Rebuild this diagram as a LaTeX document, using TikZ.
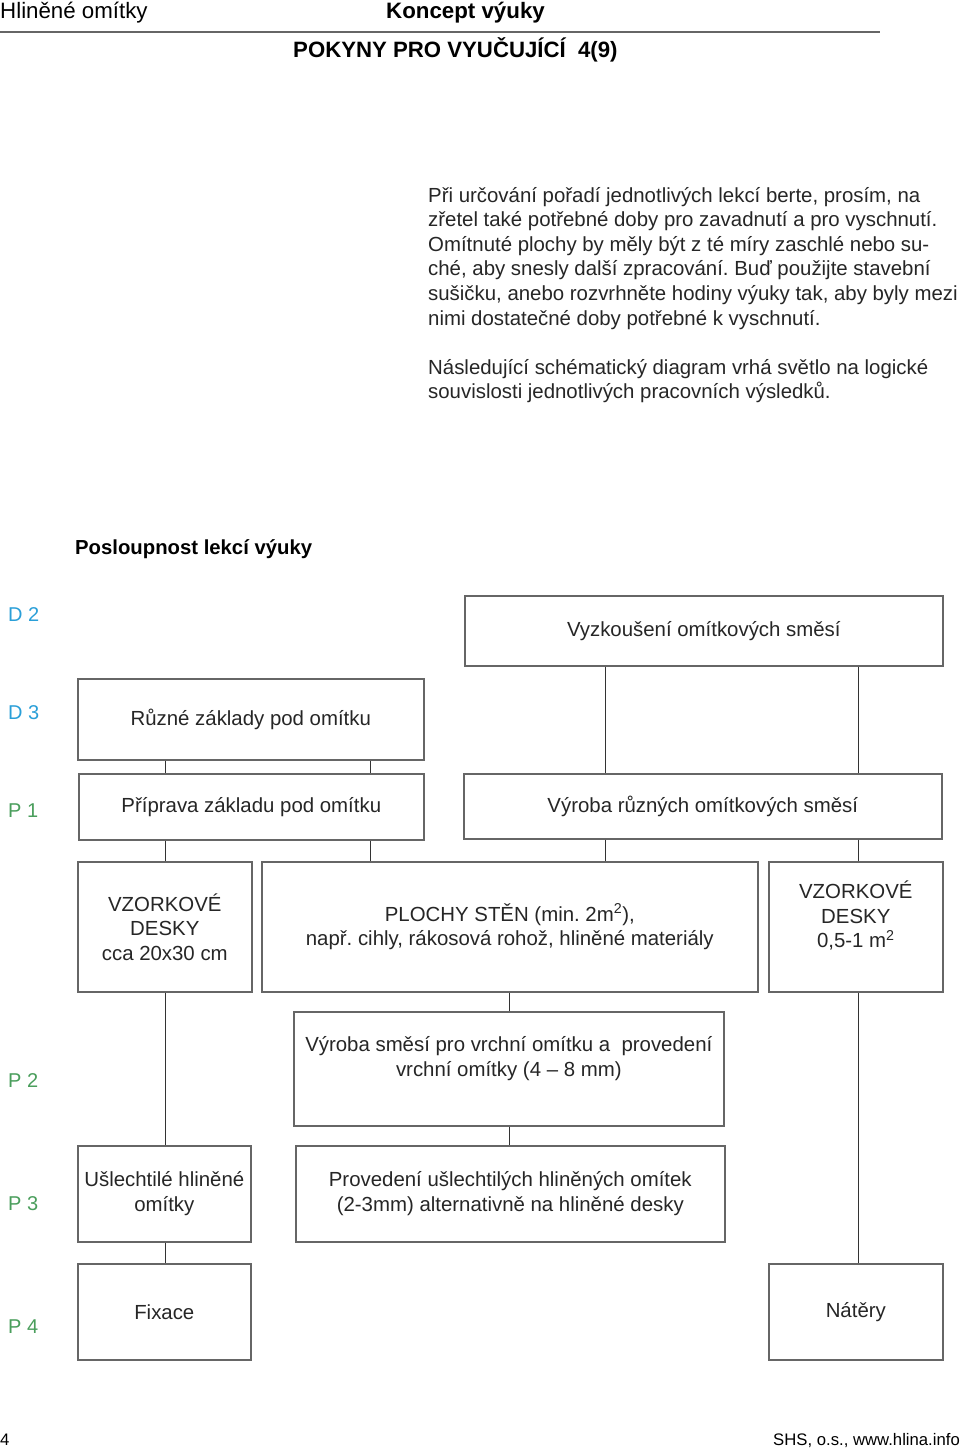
\documentclass[tikz,border=0pt]{standalone}
\usepackage{fontspec}
\setmainfont{Liberation Sans}
\definecolor{dblue}{HTML}{2A9FD8}
\definecolor{pgreen}{HTML}{4A9E5C}
\definecolor{boxline}{HTML}{666666}
\definecolor{conn}{HTML}{333333}
\frenchspacing
\begin{document}
\begin{tikzpicture}[x=1pt,y=-1pt,
  box/.style={draw=boxline, line width=1.6pt, anchor=north west, inner sep=0pt, align=center,
    font=\fontsize{20.4}{24.5}\selectfont, text=black!85},
  conn/.style={draw=conn, line width=1pt},
  para/.style={anchor=base west, inner sep=0pt, font=\fontsize{20.4}{24.5}\selectfont, text=black!85},
  lvl/.style={anchor=west, inner sep=0pt, font=\fontsize{20}{24}\selectfont},
  hdr/.style={inner sep=0pt, font=\fontsize{22.3}{26}\selectfont}]
\useasboundingbox (0,0) rectangle (960,1452);
\fill[white] (0,0) rectangle (960,1452);

% header
\node[hdr, anchor=west] (h1) at (0,13) {Hliněné omítky};
\node[hdr, anchor=west, font=\fontsize{22.3}{26}\selectfont\bfseries] (h2) at (386,13) {Koncept výuky};
\coordinate (hl1) at (0,32);
\coordinate (hl2) at (880,32);
\draw[draw=boxline, line width=1.4pt] (hl1) -- (hl2);
\node[hdr, anchor=west, font=\fontsize{22.2}{26}\selectfont\bfseries] (h3) at (293,50) {POKYNY PRO VYUČUJÍCÍ\ \ 4(9)};

% paragraph
\node[para] (p1) at (428,202) {Při určování pořadí jednotlivých lekcí berte, prosím, na};
\node[para] (p2) at (428,226.6) {zřetel také potřebné doby pro zavadnutí a pro vyschnutí.};
\node[para] (p3) at (428,251.2) {Omítnuté plochy by měly být z té míry zaschlé nebo su-};
\node[para] (p4) at (428,275.8) {ché, aby snesly další zpracování. Buď použijte stavební};
\node[para] (p5) at (428,300.4) {sušičku, anebo rozvrhněte hodiny výuky tak, aby byly mezi};
\node[para] (p6) at (428,325) {nimi dostatečné doby potřebné k vyschnutí.};
\node[para] (p7) at (428,374) {Následující schématický diagram vrhá světlo na logické};
\node[para] (p8) at (428,398.6) {souvislosti jednotlivých pracovních výsledků.};

\node[hdr, anchor=west, font=\fontsize{20.3}{24}\selectfont\bfseries] (title) at (75,549) {Posloupnost lekcí výuky};

% level labels
\node[lvl, text=dblue] (ld2) at (8,615) {D 2};
\node[lvl, text=dblue] (ld3) at (8,713) {D 3};
\node[lvl, text=pgreen] (lp1) at (8,811) {P 1};
\node[lvl, text=pgreen] (lp2) at (8,1081) {P 2};
\node[lvl, text=pgreen] (lp3) at (8,1204) {P 3};
\node[lvl, text=pgreen] (lp4) at (8,1327) {P 4};

% boxes
\node[box, minimum width=478pt, minimum height=70pt] (vyz) at (464,595) {Vyzkoušení omítkových směsí};
\node[box, minimum width=346pt, minimum height=81pt] (zak) at (77,678) {Různé základy pod omítku};
\node[box, minimum width=345pt, minimum height=66pt] (pri) at (78,773) {Příprava základu pod omítku};
\node[box, minimum width=478pt, minimum height=65pt] (vyr) at (463,773) {Výroba různých omítkových směsí};
\node[box, minimum width=174pt, minimum height=130pt] (vzl) at (77,861) {VZORKOVÉ\\DESKY\\cca 20x30 cm};
\node[box, minimum width=496pt, minimum height=130pt] (plo) at (261,861) {PLOCHY STĚN (min. 2m\textsuperscript{2}),\\např. cihly, rákosová rohož, hliněné materiály};
\node[box, minimum width=174pt, minimum height=130pt] (vzr) at (768,861) {VZORKOVÉ\\DESKY\\0,5-1 m\textsuperscript{2}\\\mbox{}};
\node[box, minimum width=430pt, minimum height=114pt] (smes) at (293,1011) {Výroba směsí pro vrchní omítku a\ \ provedení\\vrchní omítky (4 -- 8 mm)\\\mbox{}};
\node[box, minimum width=173pt, minimum height=96pt] (usl) at (77,1145) {Ušlechtilé hliněné\\omítky};
\node[box, minimum width=429pt, minimum height=96pt] (prov) at (295,1145) {Provedení ušlechtilých hliněných omítek\\(2-3mm) alternativně na hliněné desky};
\node[box, minimum width=173pt, minimum height=96pt] (fix) at (77,1263) {Fixace};
\node[box, minimum width=174pt, minimum height=96pt] (nat) at (768,1263) {Nátěry};

% connectors
\draw[conn] (vyz.south west -| 605,0) -- (vyr.north west -| 605,0);
\draw[conn] (vyz.south west -| 858,0) -- (vyr.north west -| 858,0);
\draw[conn] (zak.south west -| 165,0) -- (pri.north west -| 165,0);
\draw[conn] (zak.south west -| 370,0) -- (pri.north west -| 370,0);
\draw[conn] (pri.south west -| 165,0) -- (vzl.north west -| 165,0);
\draw[conn] (pri.south west -| 370,0) -- (plo.north west -| 370,0);
\draw[conn] (vyr.south west -| 605,0) -- (plo.north west -| 605,0);
\draw[conn] (vyr.south west -| 858,0) -- (vzr.north west -| 858,0);
\draw[conn] (plo.south west -| 509,0) -- (smes.north west -| 509,0);
\draw[conn] (smes.south west -| 509,0) -- (prov.north west -| 509,0);
\draw[conn] (vzl.south west -| 165,0) -- (usl.north west -| 165,0);
\draw[conn] (usl.south west -| 165,0) -- (fix.north west -| 165,0);
\draw[conn] (vzr.south west -| 858,0) -- (nat.north west -| 858,0);

% footer
\node[anchor=west, inner sep=0pt, font=\fontsize{16.7}{20}\selectfont] (f1) at (0,1440) {4};
\node[anchor=east, inner sep=0pt, font=\fontsize{16.7}{20}\selectfont] (f2) at (960,1440) {SHS, o.s., www.hlina.info};
\end{tikzpicture}
\end{document}
